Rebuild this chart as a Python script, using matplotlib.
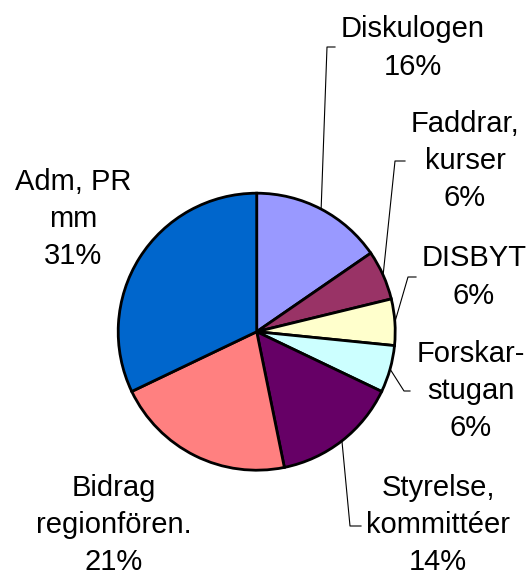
import numpy as np
import matplotlib
matplotlib.use("Agg")
import matplotlib.pyplot as plt

# slice data (clockwise from 12 o'clock)
labels = ["Diskulogen", "Faddrar,\nkurser", "DISBYT", "Forskar-\nstugan",
          "Styrelse,\nkommittéer", "Bidrag\nregionfören.", "Adm, PR\nmm"]
values = [15.4, 5.8, 5.4, 5.5, 14.7, 21.1, 32.1]
pct_labels = ["16%", "6%", "6%", "6%", "14%", "21%", "31%"]
colors = ["#9999FF", "#993366", "#FFFFCC", "#CCFFFF", "#660066", "#FF8080", "#0066CC"]

W, H = 531, 577
fig = plt.figure(figsize=(W / 100, H / 100), dpi=100)
ax = fig.add_axes([0, 0, 1, 1])

cx, cy, r = 256.7, H - 331.7, 138.5
wedges, _ = ax.pie(values, colors=colors, startangle=90, counterclock=False,
                   center=(cx, cy), radius=r,
                   wedgeprops=dict(edgecolor="black", linewidth=2.0))
ax.set_xlim(0, W)
ax.set_ylim(0, H)
ax.set_aspect("equal")
ax.axis("off")

# label block centres (pixels from top-left)
label_pos = [(413, 48), (465, 161), (474, 277), (471, 391),
             (438, 525), (114, 525), (73, 219)]
# leader elbows: (elbow point, end point), None = no leader
leaders = [((327, 47), (335, 47)),
           ((395, 161), (405, 161)),
           ((408, 277), (416, 277)),
           ((404, 391), (410, 391)),
           ((350, 526), (361, 526)),
           None, None]

for w, lab, pct, (lx, ly), ld in zip(wedges, labels, pct_labels, label_pos, leaders):
    ax.text(lx, H - ly, lab + "\n" + pct, ha="center", va="center",
            multialignment="center", fontsize=21, linespacing=1.42,
            family=["Liberation Sans", "DejaVu Sans"])
    if ld is not None:
        mid = np.deg2rad((w.theta1 + w.theta2) / 2)
        x0 = cx + r * np.cos(mid)
        y0 = cy + r * np.sin(mid)
        (ex, ey), (tx, ty) = ld
        ax.plot([x0, ex, tx], [y0, H - ey, H - ty], color="black",
                linewidth=0.8, clip_on=False)

fig.savefig("out.png", dpi=100)
